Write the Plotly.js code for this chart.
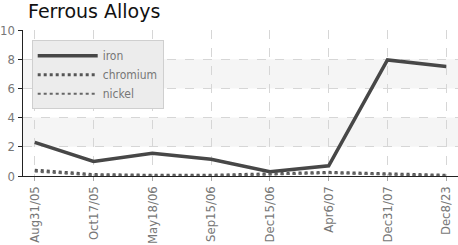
<!DOCTYPE html>
<html><head><meta charset="utf-8">
<script src="https://cdn.plot.ly/plotly-3.0.1.min.js"></script>
<style>html,body{margin:0;padding:0;background:#fff}#chart{width:458px;height:245px}</style>
</head><body><div id="chart"></div>
<script>
const categories = ["Aug31/05","Oct17/05","May18/06","Sep15/06","Dec15/06","Apr6/07","Dec31/07","Dec8/23"];
const iron     = [2.3, 1.0, 1.55, 1.15, 0.3, 0.7, 7.95, 7.5];
const chromium = [0.4, 0.1, 0.05, 0.05, 0.15, 0.25, 0.15, 0.05];
const nickel   = [0.3, 0.05, 0.02, 0.02, 0.1, 0.2, 0.1, 0.02];
const yTicks = [0, 2, 4, 6, 8, 10];

const font = "'DejaVu Sans Condensed','DejaVu Sans',sans-serif";
const traces = [
  {x: categories, y: iron, name: "iron", mode: "lines", line: {color: "#474747", width: 3.5}},
  {x: categories, y: chromium, name: "chromium", mode: "lines", line: {color: "#555", width: 3, dash: "dot"}},
  {x: categories, y: nickel, name: "nickel", mode: "lines", line: {color: "#666", width: 2, dash: "dot"}}
];
const bands = [[2,4],[6,8]].map(b => ({type: "rect", xref: "paper", yref: "y", x0: 0, x1: 1, y0: b[0], y1: b[1],
  fillcolor: "#f5f5f5", line: {width: 0}, layer: "below"}));
const layout = {
  width: 458, height: 245,
  margin: {l: 23, r: 0, t: 30, b: 69},
  paper_bgcolor: "#fff", plot_bgcolor: "#fff",
  title: {text: "Ferrous Alloys", x: 0, xref: "paper", xanchor: "left", y: 0.955, yanchor: "middle", yref: "container",
    font: {family: "'DejaVu Sans','Liberation Sans',sans-serif", size: 19, color: "#111"}, pad: {l: 5}},
  showlegend: true,
  legend: {x: 0.02, y: 0.93, xanchor: "left", yanchor: "top", bgcolor: "#ececec", bordercolor: "#cfcfcf", borderwidth: 1,
    font: {family: font, size: 12, color: "#777", stretch: "condensed"}, tracegroupgap: 0, itemwidth: 60},
  xaxis: {type: "category", range: [-0.2, 7.2], tickangle: -90, showgrid: true, gridcolor: "#d6d6d6", griddash: "dash",
    ticks: "outside", ticklen: 4, tickcolor: "#aaa", showline: true, linecolor: "#222", linewidth: 1,
    tickfont: {family: font, size: 13, color: "#777", stretch: "condensed"}, zeroline: false},
  yaxis: {range: [0, 10], tickvals: yTicks, showgrid: true, gridcolor: "#d6d6d6", griddash: "dash",
    ticks: "outside", ticklen: 4, tickcolor: "#222", showline: true, linecolor: "#222", linewidth: 1.5,
    tickfont: {family: font, size: 13, color: "#777", stretch: "condensed"}, zeroline: false},
  shapes: bands
};
Plotly.newPlot("chart", traces, layout, {displayModeBar: false, staticPlot: true});
</script></body></html>
